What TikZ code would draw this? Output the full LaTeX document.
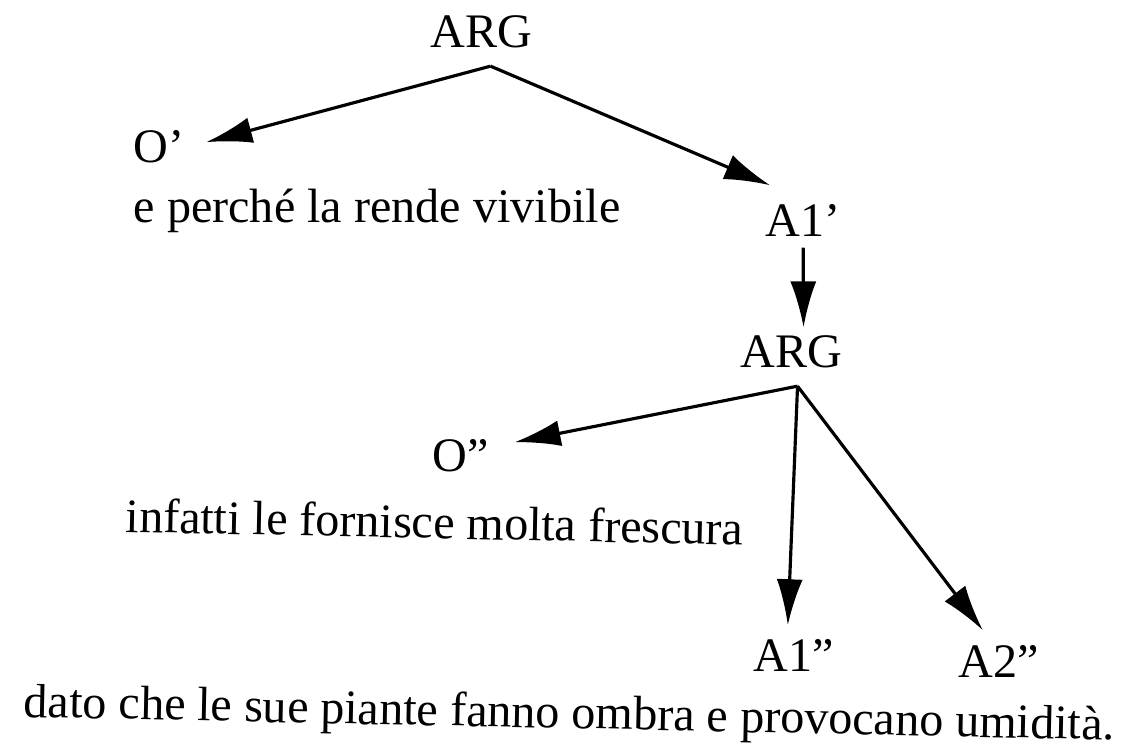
\documentclass[tikz,border=0pt]{standalone}
\usepackage{fontspec}
\setmainfont{Liberation Serif}
\usetikzlibrary{arrows.meta}
\tikzset{
  lbl/.style={inner sep=0pt,anchor=base west,font=\fontsize{13.7}{16}\selectfont},
  arr/.style={line width=0.9pt,-{Latex[length=4.6mm,width=2.6mm]}}
}
\begin{document}
\begin{tikzpicture}
\useasboundingbox (0,0) rectangle (11.3,7.46);
%\draw[step=0.5cm,gray,very thin] (0,0) grid (11.3,7.46); %background grid

\node[lbl] (arg1) at (4.30,6.98) {ARG}; %top
\node[lbl] (o1) at (1.33,5.83) {O'};
\node[lbl] (why1) at (1.33,5.23) {e perché la rende vivibile};
\node[lbl] (a1) at (7.65,5.09) {A1'};

\node[lbl] (arg2) at (7.40,3.78) {ARG}; %second level
\node[lbl] (o2) at (4.32,2.74) {O''};
\node[lbl,rotate=-1.2] (why2) at (1.25,2.14) {infatti le fornisce molta frescura};
\node[lbl] (a1b) at (7.53,0.74) {A1''};
\node[lbl] (a2b) at (9.58,0.68) {A2''};
\node[lbl,rotate=-1.2] (why3) at (0.23,0.29) {dato che le sue piante fanno ombra e provocano umidità.};

\draw[arr] ([shift={(0.09,-0.17)}]arg1.south) -- ([shift={(0.21,0.05)}]o1.east); %O'
\draw[arr] ([shift={(0.09,-0.17)}]arg1.south) -- ([shift={(-0.33,0.19)}]a1.north); %A1'
\draw[arr] ([yshift=-0.1cm]a1.south) -- ([shift={(0.12,0.08)}]arg2.north);

\draw[arr] ([shift={(0.06,-0.17)}]arg2.south) -- ([shift={(0.25,-0.03)}]o2.north east); %O''
\draw[arr] ([shift={(0.06,-0.17)}]arg2.south) -- ([shift={(-0.06,0.14)}]a1b.north); %A1''
\draw[arr] ([shift={(0.06,-0.17)}]arg2.south) -- ([shift={(-0.16,0.15)}]a2b.north); %A2''
\end{tikzpicture}
\end{document}
